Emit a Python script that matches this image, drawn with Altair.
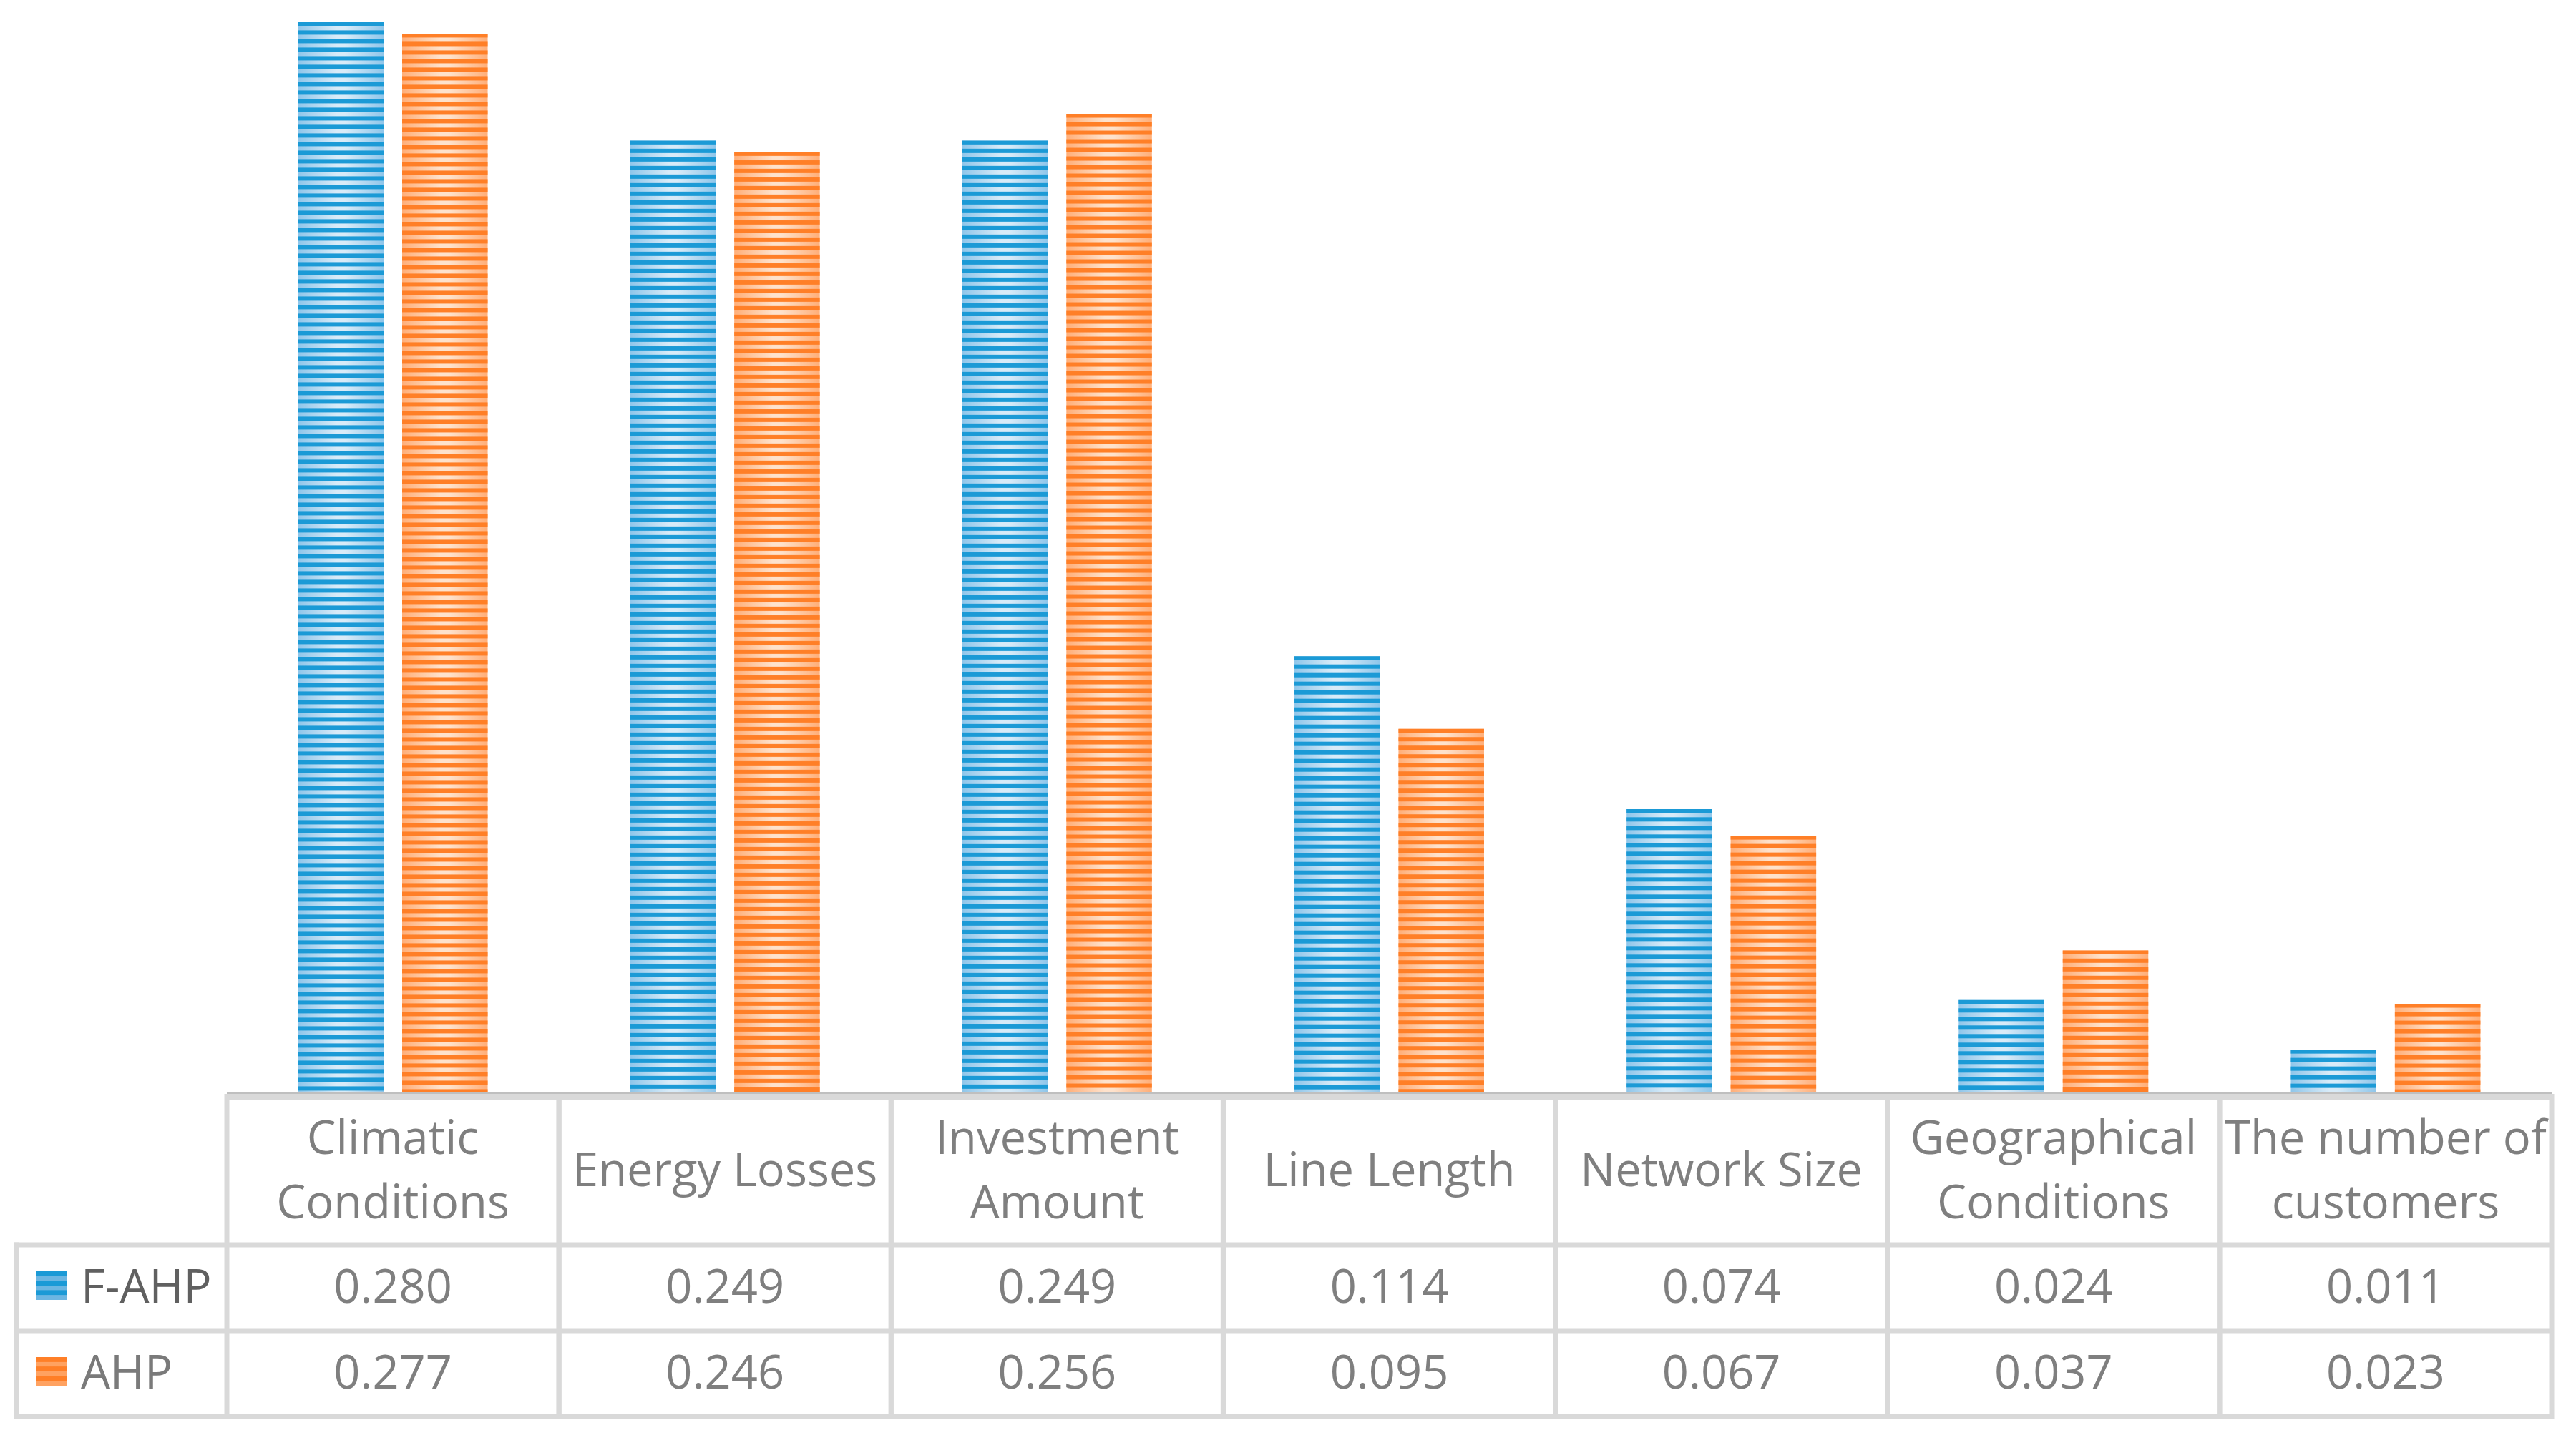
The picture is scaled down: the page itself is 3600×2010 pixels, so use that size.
import altair as alt
import pandas as pd

# ---------------- data ----------------
categories = [
    "Climatic Conditions",
    "Energy Losses",
    "Investment Amount",
    "Line Length",
    "Network Size",
    "Geographical Conditions",
    "The number of customers",
]
header_labels = [
    "Climatic\nConditions",
    "Energy Losses",
    "Investment\nAmount",
    "Line Length",
    "Network Size",
    "Geographical\nConditions",
    "The number of\ncustomers",
]
series_names = ["F-AHP", "AHP"]
f_ahp = [0.280, 0.249, 0.249, 0.114, 0.074, 0.024, 0.011]
ahp = [0.277, 0.246, 0.256, 0.095, 0.067, 0.037, 0.023]

# ---------------- layout ----------------
W, H = 3249, 1495
YMAX = 0.28
PX_PER_UNIT = H / YMAX
FONT = "Open Sans"
FS = 65
LH = 90
TXT = "#7f7f7f"
GRID = "#d9d9d9"

STYLE = {
    "F-AHP": dict(dark="#1b9ad6", edge="#8fc6ea", center="#d8ebf8",
                  clear="rgba(27,154,214,0)", swlight="#6cb6e2", label="#606060"),
    "AHP": dict(dark="#ff7f27", edge="#ffae78", center="#fee2cc",
                clear="rgba(255,127,39,0)", swlight="#ffa261", label="#7a7a7a"),
}

rows = []
for i, c in enumerate(categories):
    rows.append({"cat": c, "series": "F-AHP", "value": f_ahp[i]})
    rows.append({"cat": c, "series": "AHP", "value": ahp[i]})
df = pd.DataFrame(rows)
hdr = pd.DataFrame({"cat": categories, "header": header_labels})
one = pd.DataFrame({"k": [0]})
leg = pd.DataFrame({"series": series_names})

x_scale = alt.Scale(domain=categories, paddingInner=0, paddingOuter=0)
xo_scale = alt.Scale(domain=series_names, paddingInner=0.178, paddingOuter=0.685)
y_scale = alt.Scale(domain=[0, YMAX], nice=False, zero=True)

X = alt.X("cat:N", scale=x_scale, axis=None, sort=categories)
XO = alt.XOffset("series:N", scale=xo_scale, sort=series_names)
Y = alt.Y("value:Q", scale=y_scale, axis=None)


def stripe_gradient(h_px, dark, clear, period=12.0, dark_w=6.0, ramp=1.2):
    stops = []
    k = 0
    last = -1.0
    while k * period < h_px:
        a = k * period
        for off, col in [(a, dark), (a + dark_w - ramp, dark),
                         (a + dark_w, clear), (a + period - ramp, clear)]:
            o = round(off / h_px, 5)
            if o <= 1 and o > last:
                stops.append(alt.GradientStop(offset=o, color=col))
                last = o
        k += 1
    return alt.LinearGradient(gradient="linear", stops=stops, x1=0, x2=0, y1=0, y2=1)


layers = []

# base bars with horizontal sheen
for s in series_names:
    st = STYLE[s]
    grad = alt.LinearGradient(
        gradient="linear",
        stops=[alt.GradientStop(offset=0, color=st["edge"]),
               alt.GradientStop(offset=0.45, color=st["center"]),
               alt.GradientStop(offset=0.55, color=st["center"]),
               alt.GradientStop(offset=1, color=st["edge"])],
        x1=0, x2=1, y1=0, y2=0)
    layers.append(
        alt.Chart(df).transform_filter(alt.datum.series == s)
        .mark_bar(color=grad)
        .encode(x=X, xOffset=XO, y=Y)
    )

# stripes overlay, one gradient per bar
for i, c in enumerate(categories):
    for s, vals in (("F-AHP", f_ahp), ("AHP", ahp)):
        st = STYLE[s]
        hpx = vals[i] * PX_PER_UNIT
        layers.append(
            alt.Chart(df)
            .transform_filter((alt.datum.series == s) & (alt.datum.cat == c))
            .mark_bar(color=stripe_gradient(hpx, st["dark"], st["clear"]))
            .encode(x=X, xOffset=XO, y=Y)
        )

# ---------------- table ----------------
Y_AXIS = 1496.5
Y_TOP = 1502
Y_R1 = 1709
Y_R2 = 1829
Y_BOT = 1949
X_LEFT = -293.5

# vertical cell borders
for bp in (0, 1):
    layers.append(
        alt.Chart(hdr).mark_rule(color=GRID, strokeWidth=7)
        .encode(x=alt.X("cat:N", scale=x_scale, axis=None, sort=categories, bandPosition=bp),
                y=alt.value(Y_TOP - 4), y2=alt.value(Y_BOT + 3.5))
    )
# label column left border
layers.append(
    alt.Chart(one).mark_rule(color=GRID, strokeWidth=7)
    .encode(x=alt.value(X_LEFT), y=alt.value(Y_R1 - 3.5), y2=alt.value(Y_BOT + 3.5))
)
# horizontal borders
layers.append(
    alt.Chart(one).mark_rule(color=GRID, strokeWidth=8)
    .encode(x=alt.value(0), x2=alt.value("width"), y=alt.value(Y_TOP))
)
for yy in (Y_R1, Y_R2, Y_BOT):
    layers.append(
        alt.Chart(one).mark_rule(color=GRID, strokeWidth=7)
        .encode(x=alt.value(X_LEFT - 3.5), x2=alt.value("width"), y=alt.value(yy))
    )
# category axis line
layers.append(
    alt.Chart(one).mark_rule(color="#bfbfbf", strokeWidth=3)
    .encode(x=alt.value(0), x2=alt.value("width"), y=alt.value(Y_AXIS))
)

# header texts (single-line centred in cell, two-line block centred too)
HDR_MID = 1607
layers.append(
    alt.Chart(hdr).transform_filter("indexof(datum.header, '\\n') < 0")
    .mark_text(font=FONT, fontSize=FS, color=TXT, baseline="middle")
    .encode(x=alt.X("cat:N", scale=x_scale, axis=None, sort=categories),
            y=alt.value(HDR_MID), text="header:N")
)
layers.append(
    alt.Chart(hdr).transform_filter("indexof(datum.header, '\\n') >= 0")
    .mark_text(font=FONT, fontSize=FS, color=TXT, baseline="middle",
               lineBreak="\n", lineHeight=LH)
    .encode(x=alt.X("cat:N", scale=x_scale, axis=None, sort=categories),
            y=alt.value(HDR_MID - LH / 2), text="header:N")
)

# value rows
row_y = {"F-AHP": 1770, "AHP": 1890}
for s in series_names:
    layers.append(
        alt.Chart(df).transform_filter(alt.datum.series == s)
        .mark_text(font=FONT, fontSize=FS, color=TXT, baseline="middle")
        .encode(x=alt.X("cat:N", scale=x_scale, axis=None, sort=categories),
                y=alt.value(row_y[s]), text=alt.Text("value:Q", format=".3f"))
    )

# legend swatches + labels
for s in series_names:
    st = STYLE[s]
    sw = alt.LinearGradient(
        gradient="linear",
        stops=[alt.GradientStop(offset=0, color=st["dark"]),
               alt.GradientStop(offset=0.16, color=st["dark"]),
               alt.GradientStop(offset=0.18, color=st["swlight"]),
               alt.GradientStop(offset=0.32, color=st["swlight"]),
               alt.GradientStop(offset=0.34, color=st["dark"]),
               alt.GradientStop(offset=0.49, color=st["dark"]),
               alt.GradientStop(offset=0.51, color=st["swlight"]),
               alt.GradientStop(offset=0.65, color=st["swlight"]),
               alt.GradientStop(offset=0.67, color=st["dark"]),
               alt.GradientStop(offset=0.82, color=st["dark"]),
               alt.GradientStop(offset=0.84, color=st["swlight"]),
               alt.GradientStop(offset=1, color=st["swlight"])],
        x1=0, x2=0, y1=0, y2=1)
    cy = row_y[s] - 4
    layers.append(
        alt.Chart(leg).transform_filter(alt.datum.series == s)
        .mark_rect(color=sw)
        .encode(x=alt.value(-266), x2=alt.value(-224),
                y=alt.value(cy - 20), y2=alt.value(cy + 20))
    )
    layers.append(
        alt.Chart(leg).transform_filter(alt.datum.series == s)
        .mark_text(font=FONT, fontSize=FS, color=st["label"], baseline="middle", align="left")
        .encode(x=alt.value(-204), y=alt.value(row_y[s]), text="series:N")
    )

chart = (
    alt.layer(*layers)
    .properties(
        width=W,
        height=H,
        autosize=alt.AutoSizeParams(type="none"),
        padding={"left": 309, "top": 23, "right": 26, "bottom": 470},
        background="white",
    )
    .configure_view(stroke=None)
)

chart.save("out.html", embed_options={"renderer": "svg", "actions": False})
